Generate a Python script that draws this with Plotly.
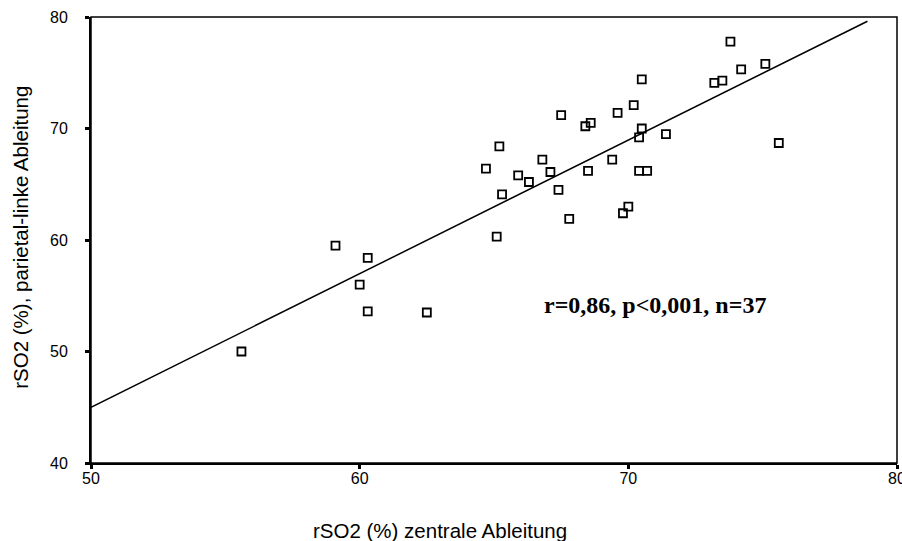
import plotly.graph_objects as go

# rSO2 (%) measured at the central lead (x) and the left parietal lead (y)
rso2_zentral = [
    55.6, 59.1, 60.3, 60.0, 60.3, 62.5, 73.8, 74.2, 75.1, 73.2,
    73.5, 70.5, 67.5, 69.6, 70.2, 68.4, 68.6, 70.5, 70.4, 71.4,
    75.6, 65.2, 64.7, 66.8, 69.4, 65.9, 67.1, 66.3, 68.5, 70.4,
    70.7, 65.3, 67.4, 70.0, 69.8, 67.8, 65.1,
]
rso2_parietal_links = [
    50.0, 59.5, 58.4, 56.0, 53.6, 53.5, 77.8, 75.3, 75.8, 74.1,
    74.3, 74.4, 71.2, 71.4, 72.1, 70.2, 70.5, 70.0, 69.2, 69.5,
    68.7, 68.4, 66.4, 67.2, 67.2, 65.8, 66.1, 65.2, 66.2, 66.2,
    66.2, 64.1, 64.5, 63.0, 62.4, 61.9, 60.3,
]

# linear regression line
fit_slope = 1.198
fit_intercept = -14.9
fit_x = [50, 78.9]
fit_y = [fit_intercept + fit_slope * v for v in fit_x]

stats_text = "r=0,86, p<0,001, n=37"
x_title = "rSO2 (%) zentrale Ableitung"
y_title = "rSO2 (%), parietal-linke Ableitung"
x_ticks = [50, 60, 70, 80]
y_ticks = [40, 50, 60, 70, 80]

FONT = "Liberation Sans, Arial, sans-serif"

fig = go.Figure()

fig.add_trace(go.Scatter(
    x=fit_x, y=fit_y, mode="lines",
    line=dict(color="black", width=1.5),
    hoverinfo="skip", showlegend=False,
))

fig.add_trace(go.Scatter(
    x=rso2_zentral, y=rso2_parietal_links, mode="markers",
    marker=dict(symbol="square-open", size=8, color="black",
                line=dict(color="black", width=1.8)),
    showlegend=False,
))

# thin frame on top and right
fig.add_shape(type="rect", xref="paper", yref="paper", x0=0, y0=0, x1=1, y1=1,
              line=dict(color="black", width=1.5), layer="above")

fig.add_annotation(
    x=71.0, y=54.2, xref="x", yref="y", text="<b>%s</b>" % stats_text,
    showarrow=False,
    font=dict(family="Liberation Serif, Times New Roman, serif", size=24, color="black"),
)

fig.add_annotation(
    x=63.0, y=-0.152, xref="x", yref="paper", text=x_title, showarrow=False,
    xanchor="center", yanchor="middle",
    font=dict(family=FONT, size=20.5, color="black"),
)
fig.add_annotation(
    x=-0.087, y=0.507, xref="paper", yref="paper", text=y_title, showarrow=False,
    textangle=-90, xanchor="center", yanchor="middle",
    font=dict(family=FONT, size=20.5, color="black"),
)

axis_common = dict(
    showgrid=False, zeroline=False, showline=True, linecolor="black", linewidth=2,
    ticks="outside", ticklen=4, tickwidth=3, tickcolor="black",
    tickfont=dict(family=FONT, size=16, color="black"),
    ticklabeloverflow="allow", automargin=False,
)

fig.update_xaxes(range=[50, 80], tickvals=x_ticks, ticklabelstandoff=-4, **axis_common)
fig.update_yaxes(range=[40, 80], tickvals=y_ticks, ticklabelstandoff=14, **axis_common)

fig.update_layout(
    width=902, height=541,
    margin=dict(l=91, r=5, t=17, b=78),
    paper_bgcolor="white", plot_bgcolor="white",
    font=dict(family=FONT, color="black"),
)

fig.write_html("out.html")
